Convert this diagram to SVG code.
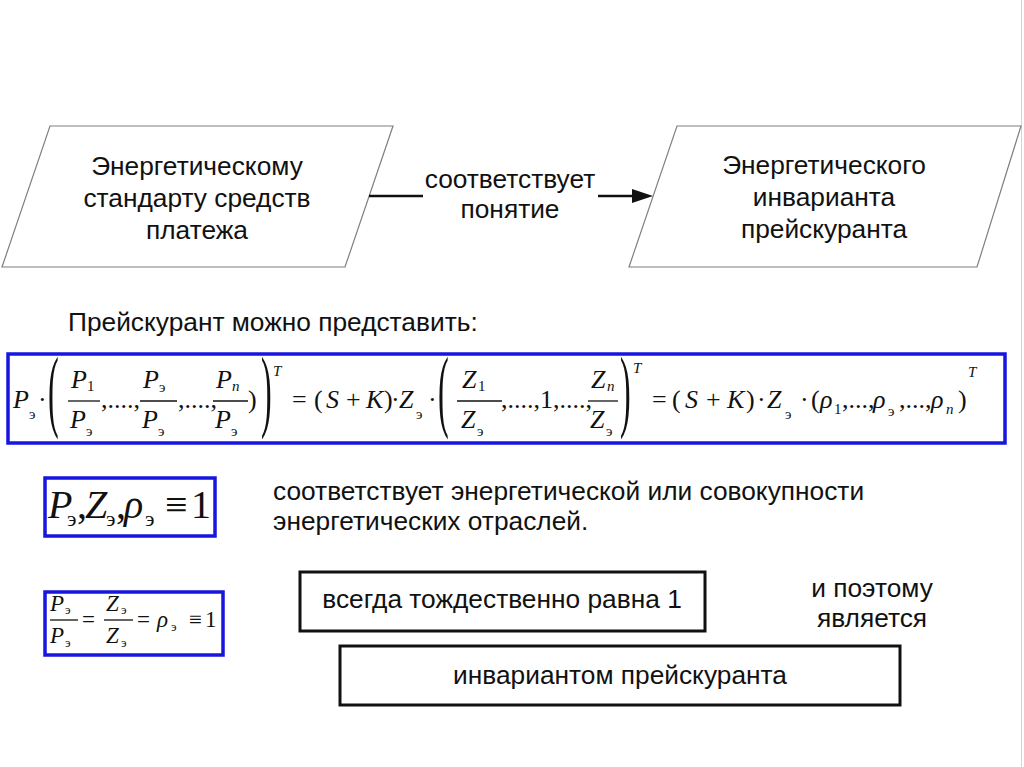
<svg xmlns="http://www.w3.org/2000/svg" width="1024" height="767" viewBox="0 0 1024 767">
<style>
.t{font-family:"Liberation Sans",Arial,sans-serif;font-size:26.3px;fill:#111}
.m{font-family:"Liberation Serif","Times New Roman",serif;font-size:26px;fill:#111}
.i{font-style:italic}
.s{font-size:15px}
.big{font-size:92px}
.l40{font-size:40px}
.l22{font-size:22px}
.l21{font-size:23px}
.l13{font-size:13px}
.para{fill:#fff;stroke:#7f7f7f;stroke-width:1.2}
.bx{fill:#fff;stroke:#111;stroke-width:3}
.blue{fill:#fff;stroke:#1616e0;stroke-width:3.5}
.bar{stroke:#111;stroke-width:1.3}
.con{stroke:#111;stroke-width:2.5;fill:none}
</style>
<rect width="1024" height="767" fill="#fff"/>
<line x1="1021.5" y1="0" x2="1021.5" y2="767" stroke="#d4d4d4" stroke-width="1"/>

<g id="node-standard">
<polygon class="para" points="50,126 393,126 345,267 2,267"/>
<text class="t" text-anchor="middle" x="197" y="175">Энергетическому</text>
<text class="t" text-anchor="middle" x="197" y="207">стандарту средств</text>
<text class="t" text-anchor="middle" x="197" y="239">платежа</text>
</g>

<g id="node-invariant">
<polygon class="para" points="677,126 1021,126 977,267 629,267"/>
<text class="t" text-anchor="middle" x="824" y="174">Энергетического</text>
<text class="t" text-anchor="middle" x="824" y="206">инварианта</text>
<text class="t" text-anchor="middle" x="824" y="238">прейскуранта</text>
</g>

<g id="connectors">
<line class="con" x1="369" y1="196" x2="423" y2="196"/>
<line class="con" x1="598" y1="196" x2="636" y2="196"/>
<polygon points="653,196 632,189 632,203" fill="#111"/>
<text class="t" text-anchor="middle" x="510" y="188">соответствует</text>
<text class="t" text-anchor="middle" x="510" y="218">понятие</text>
</g>

<g id="caption">
<text class="t" x="68" y="331">Прейскурант можно представить:</text>
</g>

<g id="formula-main">
<rect class="blue" x="8" y="354" width="997" height="89"/>
<text class="m i" x="13" y="408">P</text>
<text class="m s" x="29" y="419">э</text>
<text class="m" x="38" y="408">·</text>
<text class="m big" transform="translate(48,420) scale(0.35,1)">(</text>
<line class="bar" x1="68" y1="401" x2="100" y2="401"/>
<text class="m i" x="71" y="388">P</text>
<text class="m s" x="87" y="391">1</text>
<text class="m i" x="70" y="428">P</text>
<text class="m s" x="86" y="436">э</text>
<text class="m" x="101" y="408">,....,</text>
<line class="bar" x1="140" y1="401" x2="177" y2="401"/>
<text class="m i" x="143" y="388">P</text>
<text class="m s" x="159" y="392">э</text>
<text class="m i" x="142" y="428">P</text>
<text class="m s" x="158" y="436">э</text>
<text class="m" x="178" y="408">,....,</text>
<line class="bar" x1="213" y1="401" x2="248" y2="401"/>
<text class="m i" x="216" y="388">P</text>
<text class="m s i" x="232" y="391">n</text>
<text class="m i" x="215" y="428">P</text>
<text class="m s" x="231" y="436">э</text>
<text class="m" x="248" y="408">)</text>
<text class="m big" transform="translate(261,420) scale(0.35,1)">)</text>
<text class="m s i" x="273" y="376">T</text>
<text class="m" x="292" y="408">=</text>
<text class="m" x="314" y="408">(</text>
<text class="m i" x="326" y="408">S</text>
<text class="m" x="346" y="408">+</text>
<text class="m i" x="366" y="408">K</text>
<text class="m" x="384" y="408">)</text>
<text class="m" x="391" y="408">·</text>
<text class="m i" x="399" y="408">Z</text>
<text class="m s" x="416" y="419">э</text>
<text class="m" x="428" y="408">·</text>
<text class="m big" transform="translate(438,420) scale(0.35,1)">(</text>
<line class="bar" x1="457" y1="401" x2="502" y2="401"/>
<text class="m i" x="462" y="388">Z</text>
<text class="m s" x="478" y="391">1</text>
<text class="m i" x="461" y="428">Z</text>
<text class="m s" x="477" y="436">э</text>
<text class="m" x="501" y="408">,....,1,....,</text>
<line class="bar" x1="588" y1="401" x2="618" y2="401"/>
<text class="m i" x="591" y="388">Z</text>
<text class="m s i" x="607" y="391">n</text>
<text class="m i" x="590" y="428">Z</text>
<text class="m s" x="606" y="436">э</text>
<text class="m big" transform="translate(620,420) scale(0.35,1)">)</text>
<text class="m s i" x="633" y="373">T</text>
<text class="m" x="652" y="408">=</text>
<text class="m" x="672" y="408">(</text>
<text class="m i" x="685" y="408">S</text>
<text class="m" x="706" y="408">+</text>
<text class="m i" x="727" y="408">K</text>
<text class="m" x="746" y="408">)</text>
<text class="m" x="757" y="408">·</text>
<text class="m i" x="767" y="408">Z</text>
<text class="m s" x="785" y="419">э</text>
<text class="m" x="800" y="408">·</text>
<text class="m" x="811" y="408">(</text>
<text class="m i" x="820" y="408">ρ</text>
<text class="m s" x="834" y="414">1</text>
<text class="m" x="842" y="408">,...,</text>
<text class="m i" x="873" y="408">ρ</text>
<text class="m s" x="888" y="416">э</text>
<text class="m" x="899" y="408">,...,</text>
<text class="m i" x="931" y="408">ρ</text>
<text class="m s i" x="946" y="414">n</text>
<text class="m" x="958" y="408">)</text>
<text class="m s i" x="968" y="377">T</text>
</g>

<g id="formula-identity">
<rect class="blue" x="45" y="478" width="170" height="58"/>
<text class="m l40"><tspan class="i" x="48" y="518">P</tspan><tspan class="l22" x="67" y="526">э</tspan><tspan x="77" y="518">,</tspan><tspan class="i" x="85" y="518">Z</tspan><tspan class="l22" x="106" y="526">э</tspan><tspan x="116" y="518">,</tspan><tspan class="i" x="124" y="518">ρ</tspan><tspan class="l22" x="145" y="526">э</tspan><tspan x="165" y="518">≡</tspan><tspan x="191" y="518">1</tspan></text>
</g>

<g id="text-energy">
<text class="t" x="273" y="500">соответствует энергетической или совокупности</text>
<text class="t" x="273" y="530">энергетических отраслей.</text>
</g>

<g id="formula-ratio">
<rect class="blue" x="45" y="592" width="178" height="63"/>
<line class="bar" x1="50" y1="620" x2="78" y2="620"/>
<text class="m i l21" x="50" y="611">P</text>
<text class="m l13" x="65" y="614">э</text>
<text class="m i l21" x="50" y="643">P</text>
<text class="m l13" x="65" y="647">э</text>
<text class="m l21" x="82" y="627">=</text>
<line class="bar" x1="104" y1="620" x2="133" y2="620"/>
<text class="m i l21" x="106" y="611">Z</text>
<text class="m l13" x="121" y="614">э</text>
<text class="m i l21" x="106" y="643">Z</text>
<text class="m l13" x="121" y="647">э</text>
<text class="m l21" x="137" y="627">=</text>
<text class="m i l21" x="157" y="627">ρ</text>
<text class="m l13" x="171" y="631">э</text>
<text class="m l21" x="189" y="627">≡</text>
<text class="m l21" x="205" y="627">1</text>
</g>

<g id="node-always">
<rect class="bx" x="300" y="572" width="405" height="59"/>
<text class="t" text-anchor="middle" x="502" y="608">всегда тождественно равна 1</text>
</g>

<g id="text-therefore">
<text class="t" text-anchor="middle" x="872" y="597">и поэтому</text>
<text class="t" text-anchor="middle" x="872" y="627">является</text>
</g>

<g id="node-invariant-result">
<rect class="bx" x="340" y="646" width="560" height="59"/>
<text class="t" text-anchor="middle" x="620" y="684">инвариантом прейскуранта</text>
</g>
</svg>
